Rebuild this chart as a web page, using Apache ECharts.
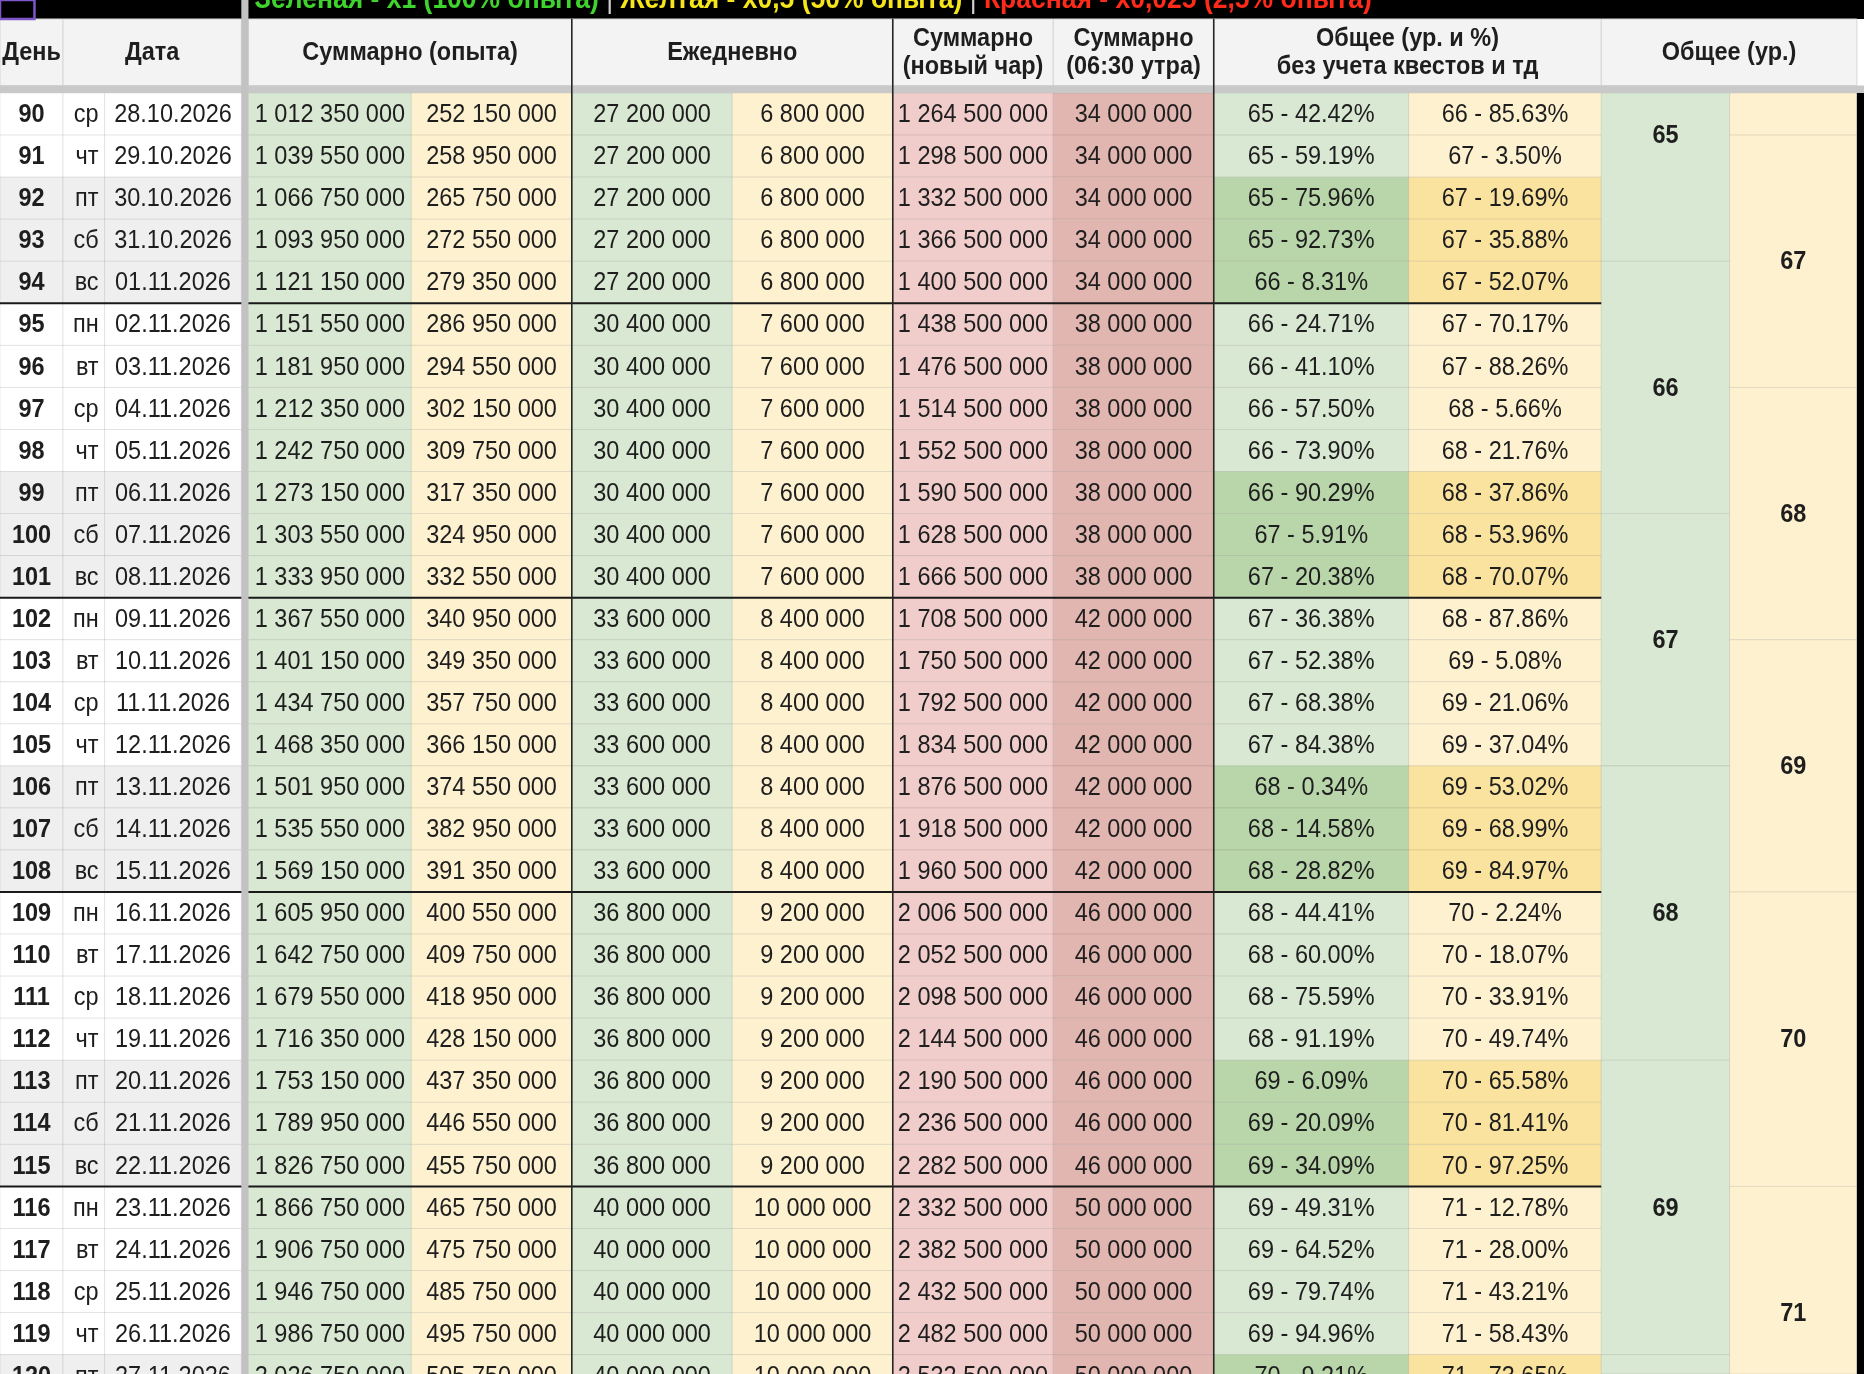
<!DOCTYPE html>
<html>
<head>
<meta charset="utf-8">
<script src="https://cdn.jsdelivr.net/npm/echarts@6/dist/echarts.min.js"></script>
<style>
  html, body { margin: 0; padding: 0; background: #fff; }
  #sheet { width: 1864px; height: 1374px; }
</style>
</head>
<body>
<div id="sheet"></div>
<script>
// --- data ---
var days = [90, 91, 92, 93, 94, 95, 96, 97, 98, 99, 100, 101, 102, 103, 104, 105, 106, 107, 108, 109, 110, 111, 112, 113, 114, 115, 116, 117, 118, 119, 120];
var weekdays = ['ср', 'чт', 'пт', 'сб', 'вс', 'пн', 'вт', 'ср', 'чт', 'пт', 'сб', 'вс', 'пн', 'вт', 'ср', 'чт', 'пт', 'сб', 'вс', 'пн', 'вт', 'ср', 'чт', 'пт', 'сб', 'вс', 'пн', 'вт', 'ср', 'чт', 'пт'];
var dates = ['28.10.2026', '29.10.2026', '30.10.2026', '31.10.2026', '01.11.2026', '02.11.2026', '03.11.2026', '04.11.2026', '05.11.2026', '06.11.2026', '07.11.2026', '08.11.2026', '09.11.2026', '10.11.2026', '11.11.2026', '12.11.2026', '13.11.2026', '14.11.2026', '15.11.2026', '16.11.2026', '17.11.2026', '18.11.2026', '19.11.2026', '20.11.2026', '21.11.2026', '22.11.2026', '23.11.2026', '24.11.2026', '25.11.2026', '26.11.2026', '27.11.2026'];
var sumGreen = [1012350000, 1039550000, 1066750000, 1093950000, 1121150000, 1151550000, 1181950000, 1212350000, 1242750000, 1273150000, 1303550000, 1333950000, 1367550000, 1401150000, 1434750000, 1468350000, 1501950000, 1535550000, 1569150000, 1605950000, 1642750000, 1679550000, 1716350000, 1753150000, 1789950000, 1826750000, 1866750000, 1906750000, 1946750000, 1986750000, 2026750000];
var sumYellow = [252150000, 258950000, 265750000, 272550000, 279350000, 286950000, 294550000, 302150000, 309750000, 317350000, 324950000, 332550000, 340950000, 349350000, 357750000, 366150000, 374550000, 382950000, 391350000, 400550000, 409750000, 418950000, 428150000, 437350000, 446550000, 455750000, 465750000, 475750000, 485750000, 495750000, 505750000];
var dailyGreen = [27200000, 27200000, 27200000, 27200000, 27200000, 30400000, 30400000, 30400000, 30400000, 30400000, 30400000, 30400000, 33600000, 33600000, 33600000, 33600000, 33600000, 33600000, 33600000, 36800000, 36800000, 36800000, 36800000, 36800000, 36800000, 36800000, 40000000, 40000000, 40000000, 40000000, 40000000];
var dailyYellow = [6800000, 6800000, 6800000, 6800000, 6800000, 7600000, 7600000, 7600000, 7600000, 7600000, 7600000, 7600000, 8400000, 8400000, 8400000, 8400000, 8400000, 8400000, 8400000, 9200000, 9200000, 9200000, 9200000, 9200000, 9200000, 9200000, 10000000, 10000000, 10000000, 10000000, 10000000];
var sumNewChar = [1264500000, 1298500000, 1332500000, 1366500000, 1400500000, 1438500000, 1476500000, 1514500000, 1552500000, 1590500000, 1628500000, 1666500000, 1708500000, 1750500000, 1792500000, 1834500000, 1876500000, 1918500000, 1960500000, 2006500000, 2052500000, 2098500000, 2144500000, 2190500000, 2236500000, 2282500000, 2332500000, 2382500000, 2432500000, 2482500000, 2532500000];
var sumMorning = [34000000, 34000000, 34000000, 34000000, 34000000, 38000000, 38000000, 38000000, 38000000, 38000000, 38000000, 38000000, 42000000, 42000000, 42000000, 42000000, 42000000, 42000000, 42000000, 46000000, 46000000, 46000000, 46000000, 46000000, 46000000, 46000000, 50000000, 50000000, 50000000, 50000000, 50000000];
var greenLevel = [65, 65, 65, 65, 66, 66, 66, 66, 66, 66, 67, 67, 67, 67, 67, 67, 68, 68, 68, 68, 68, 68, 68, 69, 69, 69, 69, 69, 69, 69, 70];
var greenPct = [42.42, 59.19, 75.96, 92.73, 8.31, 24.71, 41.10, 57.50, 73.90, 90.29, 5.91, 20.38, 36.38, 52.38, 68.38, 84.38, 0.34, 14.58, 28.82, 44.41, 60.00, 75.59, 91.19, 6.09, 20.09, 34.09, 49.31, 64.52, 79.74, 94.96, 9.21];
var yellowLevel = [66, 67, 67, 67, 67, 67, 67, 68, 68, 68, 68, 68, 68, 69, 69, 69, 69, 69, 69, 70, 70, 70, 70, 70, 70, 70, 71, 71, 71, 71, 71];
var yellowPct = [85.63, 3.50, 19.69, 35.88, 52.07, 70.17, 88.26, 5.66, 21.76, 37.86, 53.96, 70.07, 87.86, 5.08, 21.06, 37.04, 53.02, 68.99, 84.97, 2.24, 18.07, 33.91, 49.74, 65.58, 81.41, 97.25, 12.78, 28.00, 43.21, 58.43, 73.65];
// merged "Общее (ур.)" blocks: level, first day, last day
var greenSpanLevel = [65, 66, 67, 68, 69, 70];
var greenSpanFrom = [88, 94, 100, 106, 113, 120];
var greenSpanTo = [93, 99, 105, 112, 119, 125];
var yellowSpanLevel = [66, 67, 68, 69, 70, 71];
var yellowSpanFrom = [85, 91, 97, 103, 109, 116];
var yellowSpanTo = [90, 96, 102, 108, 115, 121];

var headerLabels = ['День', 'Дата', 'Суммарно (опыта)', 'Ежедневно', 'Суммарно\n(новый чар)', 'Суммарно\n(06:30 утра)', 'Общее (ур. и %)\nбез учета квестов и тд', 'Общее (ур.)'];
var bannerText = ['Зеленая - x1 (100% опыта)', 'Желтая - x0,5 (50% опыта)', 'Красная - x0,025 (2,5% опыта)'];

// --- layout (x in sheet units 0..1568, y in rows, row 90 = 0) ---
var colX = [[0, 53], [53, 88], [88, 203], [209, 346], [346, 481], [481, 616], [616, 751], [751, 886], [886, 1021], [1021, 1185], [1185, 1347], [1347, 1455], [1455, 1562]];
var headSpan = [[0, 53], [53, 203], [209, 481], [481, 751], [751, 886], [886, 1021], [1021, 1347], [1347, 1562]];
var Y_TOP = -2.213, Y_BOTTOM = 30.46, HEAD_TOP = -1.761, HEAD_BOTTOM = -0.178;
var FONT = '"Liberation Sans", Arial, sans-serif';
var FS = 23.5;
var STRETCH = 1.1; // the screenshot is squeezed sideways a little

var GREEN = '#d9e8d2', GREEN_D = '#b9d6ab', YELLOW = '#fdf1d0', YELLOW_D = '#fae39f';
var PINK = '#f0cdcb', RED = '#e2b6b0', GRAY = '#efefef';

function fmt(n) { return String(n).replace(/\B(?=(\d{3})+(?!\d))/g, ' '); }
function pct(l, p) { return l + ' - ' + p.toFixed(2) + '%'; }
function isWeekend(r) { var w = weekdays[r]; return w === 'пт' || w === 'сб' || w === 'вс'; }

function cellText(r, c) {
  switch (c) {
    case 0: return String(days[r]);
    case 1: return weekdays[r];
    case 2: return dates[r];
    case 3: return fmt(sumGreen[r]);
    case 4: return fmt(sumYellow[r]);
    case 5: return fmt(dailyGreen[r]);
    case 6: return fmt(dailyYellow[r]);
    case 7: return fmt(sumNewChar[r]);
    case 8: return fmt(sumMorning[r]);
    case 9: return pct(greenLevel[r], greenPct[r]);
    case 10: return pct(yellowLevel[r], yellowPct[r]);
  }
  return '';
}
function cellFill(r, c) {
  var we = isWeekend(r);
  if (c <= 2) return we ? GRAY : '#ffffff';
  if (c === 3 || c === 5) return GREEN;
  if (c === 4 || c === 6) return YELLOW;
  if (c === 7) return PINK;
  if (c === 8) return RED;
  if (c === 9) return we ? GREEN_D : GREEN;
  return we ? YELLOW_D : YELLOW;
}

function box(api, x0, x1, y0, y1) {
  var a = api.coord([x0, y0]), b = api.coord([x1, y1]);
  return { x: a[0], y: a[1], width: b[0] - a[0], height: b[1] - a[1] };
}
function txt(text, x, y, opts) {
  opts = opts || {};
  return {
    type: 'text',
    x: x, y: y, scaleY: STRETCH,
    style: {
      text: text, x: 0, y: 0, fill: opts.fill || '#1e1e1e',
      fontSize: opts.size || FS, fontFamily: FONT, fontWeight: opts.bold ? 'bold' : 'normal',
      align: opts.align || 'center', verticalAlign: 'middle', lineHeight: opts.lh || 26,
      rich: opts.rich
    }
  };
}

var bodyData = [];
for (var r = 0; r < days.length; r++) {
  for (var c = 0; c < 11; c++) bodyData.push([c, r]);
}

function renderBody(params, api) {
  var c = api.value(0), r = api.value(1);
  var b = box(api, colX[c][0], colX[c][1], r, r + 1);
  var tx = b.x + b.width / 2, align = 'center';
  if (c === 1) { tx = b.x + b.width - 6; align = 'right'; }
  return {
    type: 'group',
    children: [
      { type: 'rect', shape: b, style: { fill: cellFill(r, c), stroke: 'rgba(0,0,0,0.08)', lineWidth: 1 } },
      txt(cellText(r, c), tx, b.y + b.height / 2 + 1, { bold: c === 0, align: align })
    ]
  };
}

var spanData = [];
for (var i = 0; i < greenSpanLevel.length; i++) spanData.push([11, i]);
for (var j = 0; j < yellowSpanLevel.length; j++) spanData.push([12, j]);

function renderSpan(params, api) {
  var c = api.value(0), i = api.value(1);
  var green = c === 11;
  var y0 = (green ? greenSpanFrom[i] : yellowSpanFrom[i]) - days[0];
  var y1 = (green ? greenSpanTo[i] : yellowSpanTo[i]) - days[0] + 1;
  var full = box(api, colX[c][0], colX[c][1], y0, y1);
  var vis = box(api, colX[c][0], colX[c][1], Math.max(y0, 0), Math.min(y1, Y_BOTTOM));
  return {
    type: 'group',
    children: [
      { type: 'rect', shape: vis, style: { fill: green ? GREEN : YELLOW, stroke: 'rgba(0,0,0,0.08)', lineWidth: 1 } },
      txt(String(green ? greenSpanLevel[i] : yellowSpanLevel[i]), full.x + full.width / 2, full.y + full.height / 2 + 1, { bold: true })
    ]
  };
}

// thick lines under every Sunday
var weekBreaks = [];
for (var w = 0; w < weekdays.length; w++) if (weekdays[w] === 'вс') weekBreaks.push([0, w + 1]);

function renderWeek(params, api) {
  var y = api.value(1);
  var a = api.coord([0, y]), b = api.coord([1347, y]);
  return { type: 'line', shape: { x1: a[0], y1: a[1], x2: b[0], y2: b[1] }, style: { stroke: '#1a1a1a', lineWidth: 2 } };
}

function renderHeader(params, api) {
  var kids = [];
  var band = box(api, 0, 1568, Y_TOP, HEAD_TOP);
  kids.push({ type: 'rect', shape: band, style: { fill: '#000' } });
  for (var h = 0; h < headSpan.length; h++) {
    var b = box(api, headSpan[h][0], headSpan[h][1], HEAD_TOP, HEAD_BOTTOM);
    kids.push({ type: 'rect', shape: b, style: { fill: '#f3f3f3', stroke: '#d6d6d6', lineWidth: 1 } });
    kids.push(txt(headerLabels[h], b.x + b.width / 2, b.y + b.height / 2 + 1, { bold: true, lh: 25.5 }));
  }
  var gray = box(api, 0, 1568, HEAD_BOTTOM, 0);
  kids.push({ type: 'rect', shape: gray, style: { fill: '#c9c9c9' } });
  // frozen column divider
  var div = box(api, 203, 209, Y_TOP, Y_BOTTOM);
  kids.push({ type: 'rect', shape: div, style: { fill: '#c2c2c2' } });
  // dark column group borders
  [481, 751, 1021].forEach(function (x) {
    var a = api.coord([x, HEAD_TOP]), b2 = api.coord([x, Y_BOTTOM]);
    kids.push({ type: 'line', shape: { x1: a[0], y1: a[1], x2: b2[0], y2: b2[1] }, style: { stroke: '#262626', lineWidth: 1.6 } });
  });
  // right window edge
  var edge = box(api, 1562, 1568, 0, Y_BOTTOM);
  kids.push({ type: 'rect', shape: edge, style: { fill: '#000' } });
  // banner legend (only its lower half shows)
  var p = api.coord([214, -2.22]);
  var BF = 26.5;
  kids.push(txt('{g|' + bannerText[0] + '}{s| | }{y|' + bannerText[1] + '}{s| | }{r|' + bannerText[2] + '}', p[0], p[1], {
    bold: true, align: 'left', size: BF,
    rich: {
      g: { fill: '#3fd42d', fontSize: BF, fontWeight: 'bold', fontFamily: FONT },
      s: { fill: '#d0d0d0', fontSize: BF, fontWeight: 'normal', fontFamily: FONT },
      y: { fill: '#f5e51a', fontSize: BF, fontWeight: 'bold', fontFamily: FONT },
      r: { fill: '#ff2a1a', fontSize: BF, fontWeight: 'bold', fontFamily: FONT }
    }
  }));
  // selected cell outline top-left
  var sel = box(api, 0, 29, Y_TOP, HEAD_TOP);
  kids.push({ type: 'rect', shape: sel, style: { fill: 'none', stroke: '#7d56c9', lineWidth: 2.5 } });
  return { type: 'group', children: kids };
}

var chart = echarts.init(document.getElementById('sheet'));
chart.setOption({
  animation: false,
  backgroundColor: '#ffffff',
  grid: { left: 0, right: 0, top: 0, bottom: 0 },
  xAxis: { type: 'value', min: 0, max: 1568, show: false },
  yAxis: { type: 'value', min: Y_TOP, max: Y_BOTTOM, inverse: true, show: false },
  series: [
    { type: 'custom', name: 'cells', renderItem: renderBody, data: bodyData, z: 1, silent: true },
    { type: 'custom', name: 'levels', renderItem: renderSpan, data: spanData, z: 2, silent: true },
    { type: 'custom', name: 'weeks', renderItem: renderWeek, data: weekBreaks, z: 3, silent: true },
    { type: 'custom', name: 'header', renderItem: renderHeader, data: [[0, 0]], z: 5, silent: true }
  ]
});
</script>
</body>
</html>
